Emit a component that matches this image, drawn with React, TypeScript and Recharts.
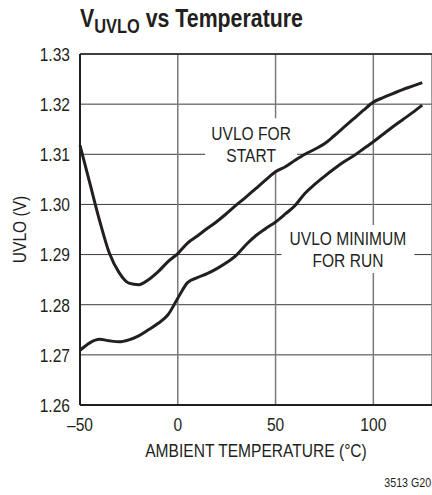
import { CartesianGrid, Line, LineChart, ReferenceArea, ReferenceLine, XAxis, YAxis } from "recharts";

const temps = [
  -50, -45, -40, -35, -30, -25, -20, -15, -10, -5, 0, 5, 10, 15, 20, 25, 30, 35, 40, 45, 50, 55, 60, 65, 70, 75,
  80, 85, 90, 95, 100, 105, 110, 115, 120, 125,
];

// UVLO for start
const startV = [
  1.3118, 1.3043, 1.2968, 1.2903, 1.2864, 1.2843, 1.2840, 1.2850, 1.2866, 1.2886, 1.2902, 1.2923, 1.2937, 1.2952,
  1.2966, 1.2982, 1.2999, 1.3015, 1.3032, 1.3049, 1.3065, 1.3075, 1.3088, 1.3100, 1.3110, 1.3121, 1.3137, 1.3154,
  1.3171, 1.3188, 1.3204, 1.3213, 1.3221, 1.3229, 1.3236, 1.3243,
];

// UVLO minimum for run
const runV = [
  1.2709, 1.2724, 1.2731, 1.2728, 1.2726, 1.2730, 1.2738, 1.2750, 1.2763, 1.2780, 1.2813, 1.2844, 1.2854, 1.2862,
  1.2872, 1.2884, 1.2899, 1.2920, 1.2938, 1.2952, 1.2965, 1.2981, 1.2998, 1.3022, 1.3040, 1.3056, 1.3071, 1.3085,
  1.3097, 1.3111, 1.3125, 1.3140, 1.3155, 1.3169, 1.3183, 1.3198,
];

const xTicks = [-50, 0, 50, 100];
const yTicks = [1.26, 1.27, 1.28, 1.29, 1.3, 1.31, 1.32, 1.33];

const data = temps.map((t, i) => ({ t, start: startV[i], run: runV[i] }));

// no narrow font installed: squeeze Liberation Sans horizontally instead
const font = '"Liberation Sans", Arial, sans-serif';
const squeeze = 0.82;
const ink = "#231f20";

function NText({
  x,
  y,
  anchor = "middle",
  size = 19,
  angle = 0,
  children,
}: {
  x: number;
  y: number;
  anchor?: "start" | "middle" | "end";
  size?: number;
  angle?: number;
  children: any;
}) {
  return (
    <text
      transform={`translate(${x} ${y}) rotate(${angle}) scale(${squeeze} 1)`}
      textAnchor={anchor}
      fontFamily={font}
      fontSize={size}
      fill={ink}
    >
      {children}
    </text>
  );
}

function XTick({ x, y, payload }: any) {
  const v = payload.value as number;
  const s = v < 0 ? `–${Math.abs(v)}` : String(v);
  return (
    <NText x={x} y={y + 13.5}>
      {s}
    </NText>
  );
}

function YTick({ x, y, payload }: any) {
  return (
    <NText x={x} y={y + 6.8} anchor="end">
      {(payload.value as number).toFixed(2)}
    </NText>
  );
}

function BoxLabel({ viewBox, lines }: { viewBox?: any; lines: string[] }) {
  if (!viewBox) return null;
  const cx = viewBox.x + viewBox.width / 2;
  const cy = viewBox.y + viewBox.height / 2;
  return (
    <g>
      <NText x={cx} y={cy - 11 + 6.8}>
        {lines[0]}
      </NText>
      <NText x={cx} y={cy + 11 + 6.8}>
        {lines[1]}
      </NText>
    </g>
  );
}

export default function App() {
  return (
    <div style={{ position: "absolute", left: 0, top: 0, width: 432, height: 495, background: "#fff", fontFamily: font }}>
      <div
        style={{
          position: "absolute",
          left: 80,
          top: 5,
          fontSize: 26,
          lineHeight: "26px",
          fontWeight: "bold",
          color: ink,
          whiteSpace: "nowrap",
          transform: `scaleX(${squeeze})`,
          transformOrigin: "left top",
        }}
      >
        V<span style={{ fontSize: 20, position: "relative", top: 6 }}>UVLO</span> vs Temperature
      </div>
      <LineChart width={432} height={495} data={data} margin={{ top: 54, right: 0, bottom: 30, left: 0 }}>
        <CartesianGrid horizontal={true} vertical={false} stroke="#3a3a3a" strokeWidth={1} />
        <CartesianGrid horizontal={false} vertical={true} stroke="#7a7a7a" strokeWidth={1.5} />
        <XAxis
          dataKey="t"
          type="number"
          domain={[-50, 130]}
          ticks={xTicks}
          tickLine={false}
          tickMargin={6}
          axisLine={{ stroke: ink, strokeWidth: 2 }}
          height={60}
          tick={<XTick />}
          label={{
            content: ({ viewBox }: any) => (
              <NText x={viewBox.x + viewBox.width / 2} y={viewBox.y + 52}>
                AMBIENT TEMPERATURE (°C)
              </NText>
            ),
          }}
        />
        <YAxis
          type="number"
          domain={[1.26, 1.33]}
          ticks={yTicks}
          width={80}
          tickLine={false}
          tickMargin={4}
          axisLine={{ stroke: ink, strokeWidth: 2 }}
          tick={<YTick />}
          label={{
            content: ({ viewBox }: any) => (
              <NText x={26} y={viewBox.y + viewBox.height / 2} angle={-90}>
                UVLO (V)
              </NText>
            ),
          }}
        />
        <ReferenceArea
          x1={14}
          x2={61}
          y1={1.3068}
          y2={1.3172}
          fill="#fff"
          fillOpacity={1}
          stroke="none"
          label={<BoxLabel lines={["UVLO FOR", "START"]} />}
        />
        <ReferenceArea
          x1={53}
          x2={121}
          y1={1.2863}
          y2={1.2959}
          fill="#fff"
          fillOpacity={1}
          stroke="none"
          label={<BoxLabel lines={["UVLO MINIMUM", "FOR RUN"]} />}
        />
        <ReferenceLine y={1.33} stroke={ink} strokeWidth={1.5} />
        <Line
          dataKey="start"
          type="monotone"
          stroke={ink}
          strokeWidth={3}
          dot={false}
          activeDot={false}
          isAnimationActive={false}
        />
        <Line
          dataKey="run"
          type="monotone"
          stroke={ink}
          strokeWidth={3}
          dot={false}
          activeDot={false}
          isAnimationActive={false}
        />
      </LineChart>
      <div
        style={{
          position: "absolute",
          right: 1,
          top: 476,
          fontSize: 13,
          lineHeight: "13px",
          color: ink,
          transform: `scaleX(${squeeze})`,
          transformOrigin: "right top",
        }}
      >
        3513 G20
      </div>
    </div>
  );
}
